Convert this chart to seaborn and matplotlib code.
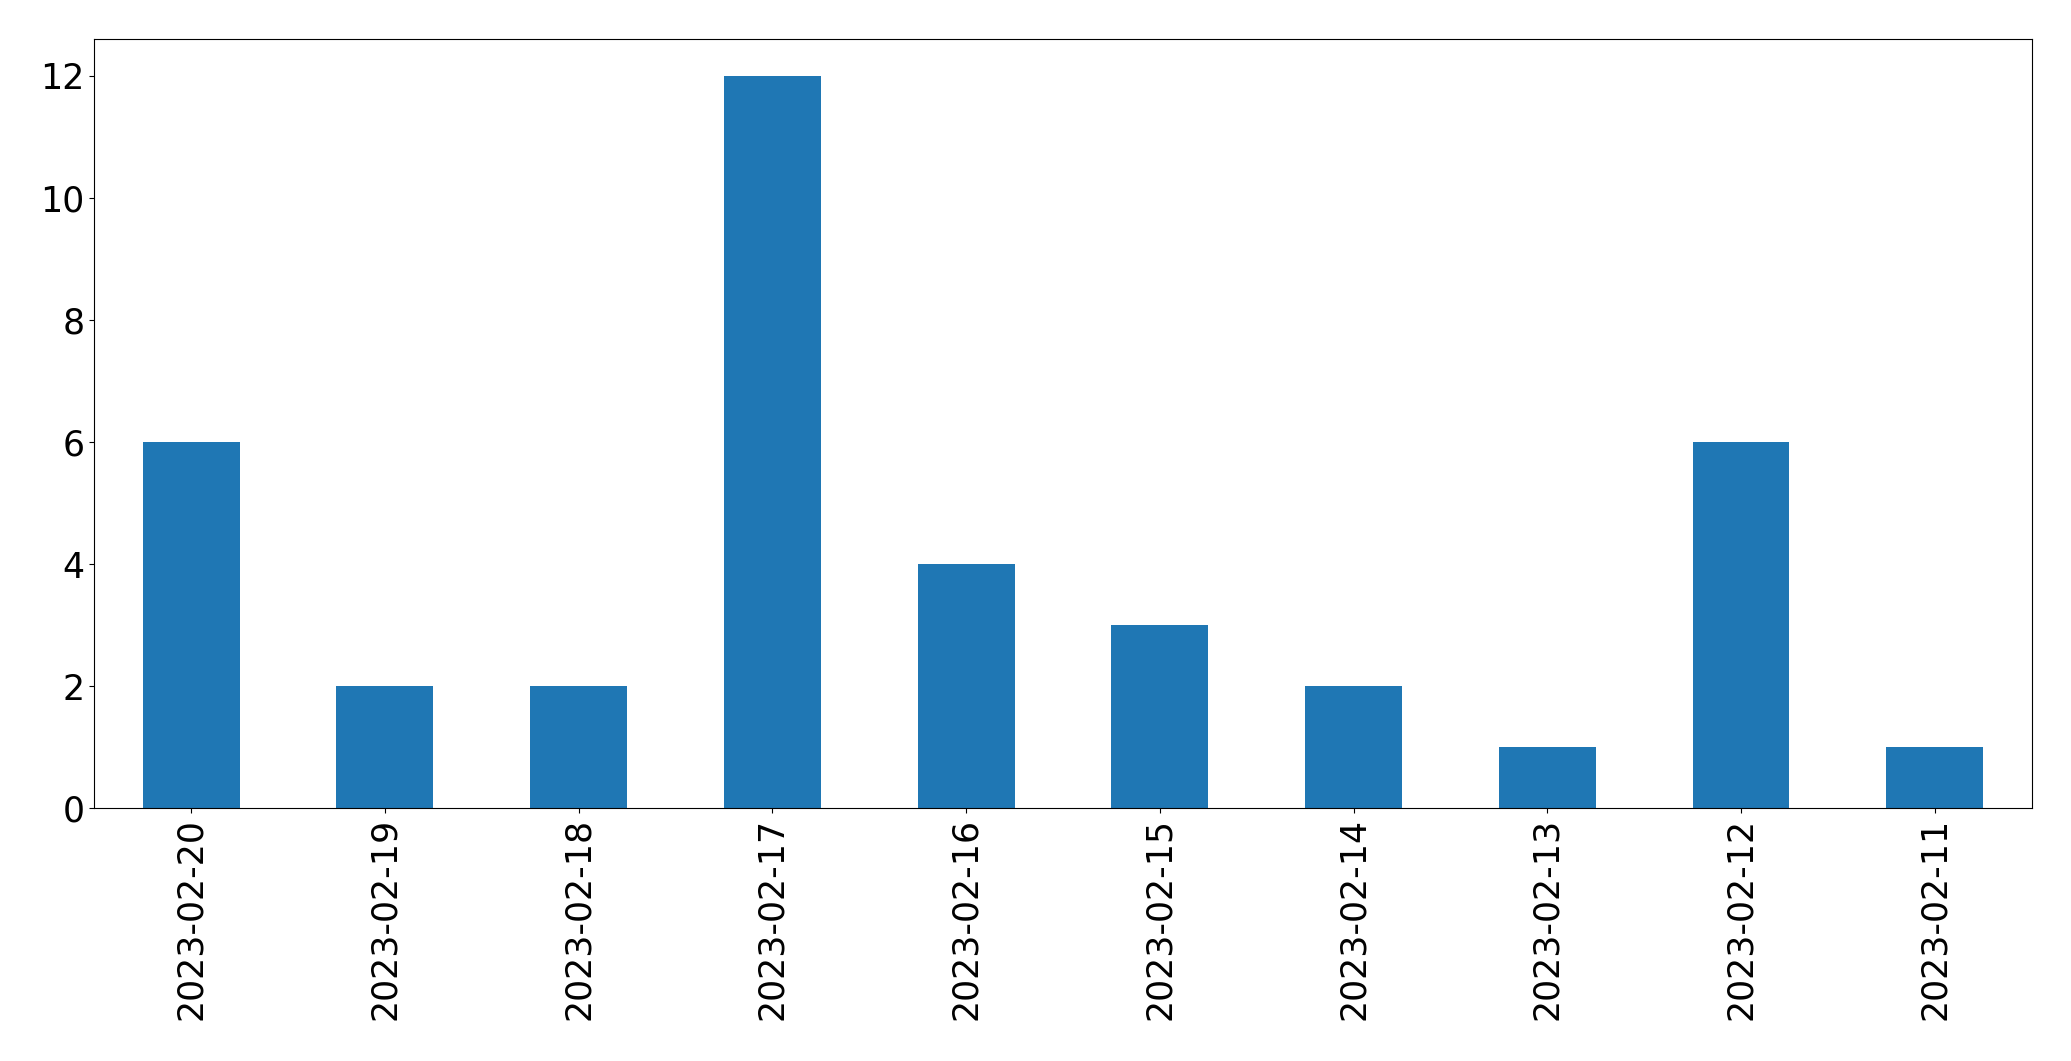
import matplotlib
matplotlib.use('Agg')
import matplotlib.pyplot as plt
import seaborn as sns
import pandas as pd

# %% Data
dates = ['2023-02-20', '2023-02-19', '2023-02-18', '2023-02-17', '2023-02-16',
         '2023-02-15', '2023-02-14', '2023-02-13', '2023-02-12', '2023-02-11']
counts = [6, 2, 2, 12, 4, 3, 2, 1, 6, 1]

df = pd.DataFrame({'date': dates, 'count': counts})

# %% Plot
fig, ax = plt.subplots(figsize=(20.71, 10.61), dpi=100)
fig.subplots_adjust(left=0.0455, right=0.981, top=0.963, bottom=0.238)

sns.barplot(data=df, x='date', y='count', order=dates, color='#1f77b4',
            saturation=1, width=0.5, ax=ax)

ax.set_xlim(-0.5, len(dates) - 0.5)
ax.set_ylim(0, 12.6)
ax.set_xlabel('')
ax.set_ylabel('')
ax.tick_params(axis='both', labelsize=25)
plt.setp(ax.get_xticklabels(), rotation=90)

plt.savefig('out.png')
